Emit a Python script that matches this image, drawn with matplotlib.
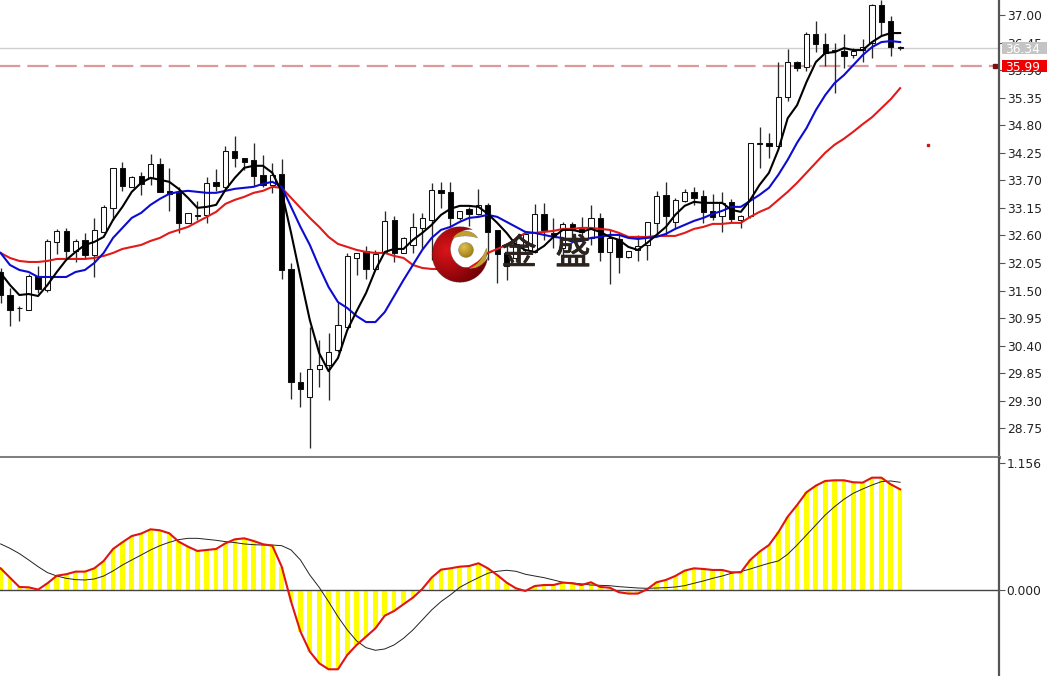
import numpy as np
import matplotlib
matplotlib.use("Agg")
import matplotlib.pyplot as plt
import matplotlib.patheffects as pe
from matplotlib.patches import Rectangle

W, H = 1047, 676

# candles
opens = [31.85,31.41,31.15,31.11,31.77,31.51,32.47,32.67,32.29,32.49,
         32.21,32.67,33.15,33.93,33.57,33.77,33.75,34.01,33.47,33.45,
         32.85,32.99,33.01,33.65,33.57,34.27,34.13,34.09,33.79,33.61,
         33.81,31.91,29.67,29.38,29.93,30.01,30.31,30.77,32.15,32.27,
         31.93,32.27,32.89,32.25,32.41,32.75,32.91,33.49,33.45,32.95,
         33.11,33.03,33.19,32.69,32.23,32.15,32.31,32.27,33.01,32.63,
         32.35,32.81,32.73,32.55,32.93,32.27,32.51,32.17,32.31,32.41,
         32.85,33.39,32.87,33.29,33.45,33.37,33.07,32.99,33.25,32.91,
         32.99,34.43,34.43,34.39,35.36,36.06,35.96,36.62,36.42,36.30,
         36.28,36.20,36.30,36.44,37.20,36.88,36.36]
highs = [31.95,31.55,31.19,31.83,31.99,32.53,32.73,32.75,32.53,32.65,
         32.95,33.21,33.93,34.07,33.79,33.87,34.23,34.15,33.95,33.57,
         33.05,33.29,33.77,33.93,34.39,34.59,34.15,34.45,34.21,34.05,
         34.13,32.05,29.87,30.77,30.51,30.65,31.27,32.25,32.25,32.39,
         32.31,33.09,32.99,32.57,33.05,33.05,33.65,33.67,33.67,33.07,
         33.17,33.53,33.25,32.71,32.41,32.51,32.67,33.23,33.25,32.95,
         32.87,32.87,32.97,33.21,33.05,32.71,32.61,32.27,32.61,32.87,
         33.49,33.67,33.35,33.53,33.57,33.51,33.43,33.47,33.33,33.01,
         34.45,34.77,34.65,36.06,36.32,36.08,36.66,36.88,36.64,36.44,
         36.62,36.34,36.52,37.22,37.30,36.98,36.38]
lows = [31.25,30.79,30.89,31.11,31.45,31.47,32.23,32.15,32.07,32.13,
        31.77,32.67,32.91,33.49,33.57,33.41,33.61,33.47,33.09,32.65,
        32.85,32.91,32.85,33.49,33.53,33.97,33.91,33.59,33.57,33.45,
        31.73,29.34,29.18,28.36,29.58,29.32,30.27,30.77,31.81,31.73,
        31.91,32.27,32.07,32.25,32.25,32.33,32.11,33.15,32.77,32.91,
        32.79,33.01,32.11,31.65,31.71,32.07,32.27,32.25,32.51,32.35,
        32.01,32.45,32.47,32.41,32.09,31.63,31.85,32.15,32.09,32.11,
        32.61,32.61,32.75,33.27,33.21,32.85,32.91,32.67,32.85,32.75,
        32.95,33.95,34.15,34.39,35.28,35.88,35.88,36.26,35.98,35.44,
        35.94,36.14,36.06,36.14,36.60,36.18,36.30]
closes = [31.41,31.11,31.15,31.77,31.53,32.47,32.67,32.29,32.47,32.21,
          32.69,33.15,33.93,33.59,33.75,33.63,34.01,33.47,33.43,32.85,
          33.03,32.99,33.63,33.59,34.27,34.15,34.07,33.79,33.61,33.79,
          31.91,29.67,29.54,29.93,30.01,30.27,30.81,32.17,32.23,31.93,
          32.21,32.87,32.25,32.53,32.75,32.93,33.49,33.45,32.95,33.07,
          33.03,33.19,32.67,32.23,31.99,32.41,32.61,33.01,32.71,32.59,
          32.81,32.71,32.67,32.93,32.27,32.53,32.17,32.27,32.37,32.85,
          33.37,32.99,33.29,33.45,33.35,33.07,32.97,33.23,32.93,32.97,
          34.43,34.43,34.39,35.36,36.06,35.94,36.62,36.42,36.24,36.28,
          36.18,36.28,36.36,37.20,36.86,36.36,36.34]

# moving averages
ma_black = [31.85,31.61,31.41,31.43,31.39,31.61,31.87,32.11,32.27,32.41,
            32.47,32.57,32.91,33.17,33.47,33.65,33.75,33.71,33.67,33.53,
            33.35,33.15,33.17,33.21,33.51,33.75,33.95,33.99,33.99,33.85,
            33.47,32.65,31.77,30.91,30.25,29.89,30.15,30.71,31.09,31.45,
            31.91,32.27,32.33,32.33,32.51,32.65,32.81,33.01,33.13,33.19,
            33.19,33.17,33.03,32.85,32.65,32.41,32.31,32.27,32.39,32.57,
            32.71,32.71,32.67,32.73,32.67,32.57,32.51,32.37,32.31,32.45,
            32.61,32.77,33.01,33.19,33.27,33.25,33.25,33.25,33.11,33.07,
            33.31,33.61,33.85,34.31,34.94,35.20,35.66,36.06,36.24,36.26,
            36.34,36.30,36.30,36.46,36.58,36.64,36.64]
ma_blue = [32.25,32.01,31.91,31.87,31.77,31.77,31.77,31.77,31.87,31.91,
           32.05,32.25,32.55,32.75,32.95,33.05,33.21,33.33,33.43,33.47,
           33.49,33.47,33.45,33.45,33.49,33.53,33.55,33.57,33.63,33.67,
           33.57,33.17,32.77,32.41,31.97,31.57,31.27,31.15,30.99,30.87,
           30.87,31.07,31.39,31.71,32.01,32.31,32.55,32.71,32.77,32.87,
           32.95,32.97,33.01,32.97,32.87,32.77,32.67,32.65,32.61,32.57,
           32.55,32.47,32.49,32.55,32.57,32.61,32.61,32.55,32.53,32.55,
           32.57,32.63,32.73,32.81,32.89,32.95,33.03,33.09,33.17,33.17,
           33.29,33.41,33.55,33.81,34.11,34.45,34.74,35.10,35.40,35.64,
           35.80,36.00,36.20,36.36,36.46,36.48,36.46]
ma_red = [32.25,32.15,32.09,32.07,32.07,32.09,32.13,32.13,32.13,32.13,
          32.15,32.19,32.25,32.33,32.37,32.41,32.49,32.55,32.65,32.71,
          32.77,32.87,32.97,33.07,33.23,33.31,33.37,33.45,33.49,33.57,
          33.55,33.35,33.15,32.95,32.77,32.57,32.43,32.37,32.31,32.27,
          32.25,32.25,32.19,32.15,32.01,31.95,31.93,31.93,31.93,31.93,
          31.95,32.07,32.25,32.33,32.41,32.53,32.65,32.65,32.67,32.69,
          32.73,32.73,32.75,32.75,32.73,32.71,32.65,32.57,32.57,32.57,
          32.59,32.59,32.59,32.65,32.73,32.77,32.83,32.83,32.85,32.85,
          32.97,33.07,33.15,33.31,33.47,33.65,33.85,34.05,34.25,34.41,
          34.53,34.67,34.82,34.96,35.14,35.32,35.54]

# lower panel
macd_hist = [.197,.112,.027,.024,.003,.061,.130,.143,.167,.167,
             .197,.264,.373,.434,.491,.513,.552,.543,.516,.440,
             .394,.355,.364,.373,.425,.461,.470,.446,.416,.403,
             .212,-.106,-.379,-.561,-.667,-.722,-.722,-.591,-.500,-.425,
             -.349,-.234,-.191,-.130,-.070,.009,.112,.185,.197,.212,
             .218,.243,.197,.136,.067,.015,-.009,.036,.045,.045,
             .067,.061,.045,.070,.027,.021,-.021,-.033,-.033,.006,
             .070,.091,.127,.176,.197,.191,.182,.182,.161,.161,
             .273,.349,.409,.525,.667,.773,.889,.949,.992,.998,
             .998,.980,.977,1.022,1.022,.961,.916]
macd_signal = [.419,.379,.331,.273,.212,.158,.127,.106,.094,.091,
               .100,.127,.173,.227,.273,.318,.364,.403,.434,.458,
               .470,.470,.461,.452,.440,.431,.419,.412,.409,.409,
               .403,.364,.273,.136,.024,-.106,-.243,-.364,-.464,-.525,
               -.549,-.537,-.500,-.440,-.364,-.273,-.182,-.106,-.045,.024,
               .070,.112,.152,.170,.179,.170,.143,.127,.112,.091,
               .070,.064,.055,.045,.042,.039,.030,.024,.018,.015,
               .018,.021,.027,.039,.061,.082,.106,.127,.152,.167,
               .191,.218,.243,.264,.325,.409,.500,.591,.682,.758,
               .825,.880,.919,.955,.986,.992,.980]

price_ticks = [28.75,29.30,29.85,30.40,30.95,31.50,32.05,32.60,33.15,33.70,
               34.25,34.80,35.35,35.90,36.45,37.00]
macd_ticks = [0.0, 1.156]
bid_price = 36.34
order_price = 35.99
stray_index, stray_price = 99, 34.41
logo_chars = ["金", "盛"]

GREY = "#555555"
x = np.arange(len(opens))
xlim = (-0.064, 106.55)


def px_axes(left, top, right, bottom, **kw):
    return fig.add_axes([left / W, 1 - bottom / H, (right - left) / W, (bottom - top) / H], **kw)


fig = plt.figure(figsize=(W / 100, H / 100), dpi=100, facecolor="white")
ax1 = px_axes(0, 0, 999, 457)
ax2 = px_axes(0, 458, 999, 676)

# price panel
for i in x:
    ax1.vlines(i, lows[i], highs[i], color="#2a2a2a", lw=0.95, zorder=2)
    up = closes[i] >= opens[i]
    ax1.bar(i, abs(closes[i] - opens[i]) + 0.01, bottom=min(opens[i], closes[i]), width=0.56,
            facecolor="white" if up else "black", edgecolor="#111111", lw=0.75, zorder=3)

ax1.axhline(bid_price, color="#cfcfcf", lw=1, zorder=1)
ax1.plot([-1, 106.1], [order_price, order_price], color="#dd9a9a", lw=1.6,
         dashes=(21 / 2.2, 7 / 2.2), zorder=1)
ax1.plot(x, ma_red, color="#e21a1a", lw=1.5, zorder=4)
ax1.plot(x, ma_blue, color="#0c0cd0", lw=1.5, zorder=5)
ax1.plot(x, ma_black, color="black", lw=1.5, zorder=6)
ax1.plot([106.1], [order_price], "s", color="#7a1010", ms=3.5, zorder=6)
ax1.plot([stray_index], [stray_price], "s", color="#c81818", ms=1.8, zorder=6)

ax1.set_xlim(xlim)
ax1.set_ylim(28.176, 37.30)
ax1.set_xticks([])
ax1.yaxis.tick_right()
ax1.set_yticks(price_ticks, [f"{v:.2f}" for v in price_ticks])

# lower panel
ax2.bar(x, macd_hist, width=0.5, color="#ffff00", lw=0, zorder=1)
ax2.axhline(0, color="#444444", lw=1, zorder=2)
ax2.plot(x, macd_signal, color="#222222", lw=0.7, zorder=3)
ax2.plot(x, macd_hist, color="#e01414", lw=1.5, zorder=4)
ax2.set_xlim(xlim)
ax2.set_ylim(-0.783, 1.201)
ax2.set_xticks([])
ax2.yaxis.tick_right()
ax2.set_yticks(macd_ticks, [f"{v:.3f}" for v in macd_ticks])

for ax in (ax1, ax2):
    ax.spines["left"].set_visible(False)
    ax.spines["top"].set_visible(False)
    ax.spines["right"].set_color(GREY)
    ax.spines["right"].set_linewidth(1.6)
    ax.tick_params(axis="y", length=4, width=0.8, color=GREY, labelsize=8.8,
                   labelcolor="#222222", pad=1.5)
ax1.spines["bottom"].set_color("#808080")
ax1.spines["bottom"].set_linewidth(2.2)
ax2.spines["bottom"].set_visible(False)

# price boxes on the axis
for price, face, top, bottom in [(bid_price, "#c4c4c4", 42, 54), (order_price, "#f00000", 60, 71.5)]:
    fig.add_artist(Rectangle((1002 / W, 1 - bottom / H), 45 / W, (bottom - top) / H,
                             transform=fig.transFigure, facecolor=face, edgecolor="none", zorder=10))
    fig.text(1005 / W, 1 - (top + bottom) / 2 / H, f"{price:.2f}", color="white", fontsize=8.8,
             va="center_baseline", ha="left", zorder=11)

# logo
n = 240
lx, ly = np.meshgrid(np.linspace(430, 490, n), np.linspace(225, 285, n))
logo = np.zeros((n, n, 4))
d_outer = np.hypot(lx - 460, ly - 254.5)
d_inner = np.hypot(lx - 470, ly - 249)
d_ball = np.hypot(lx - 466, ly - 250)
d_light = np.hypot(lx - 447, ly - 250)
shade = np.clip(d_light / 40, 0, 1)[..., None]
ring = (d_outer < 28) & (d_inner > 19.5)
red = (1 - shade) * np.array([0.86, 0.08, 0.10]) + shade * np.array([0.45, 0.0, 0.02])
logo[ring, :3] = red[ring]
logo[ring, 3] = 1
gold_top = (np.hypot(lx - 465.5, ly - 245.6) < 14.6) & (np.hypot(lx - 465.5, ly - 276) > 40)
gold_right = (np.hypot(lx - 471.2, ly - 252.4) < 16) & (np.hypot(lx - 448.6, ly - 235.2) > 40)
for mask in (gold_top, gold_right):
    logo[mask, :3] = [0.76, 0.63, 0.18]
    logo[mask, 3] = 1
ball = d_ball < 7.5
ball_shade = np.clip(np.hypot(lx - 464, ly - 247) / 11, 0, 1)[..., None]
ball_rgb = (1 - ball_shade) * np.array([0.88, 0.76, 0.30]) + ball_shade * np.array([0.62, 0.48, 0.08])
logo[ball, :3] = ball_rgb[ball]
logo[ball, 3] = 1

ax_logo = px_axes(430, 225, 490, 285, zorder=5)
ax_logo.imshow(logo, interpolation="antialiased", aspect="auto")
ax_logo.axis("off")
ax_logo.patch.set_alpha(0)

for ch, cx in zip(logo_chars, (519, 573)):
    t = fig.text(cx / W, 1 - 254 / H, ch, fontsize=25.5, color="#2c221e", ha="center", va="center",
                 family=["Noto Sans CJK SC", "DejaVu Sans"], zorder=12)
    t.set_path_effects([pe.withStroke(linewidth=0.6, foreground="#2c221e")])

fig.savefig("out.png", dpi=100)
